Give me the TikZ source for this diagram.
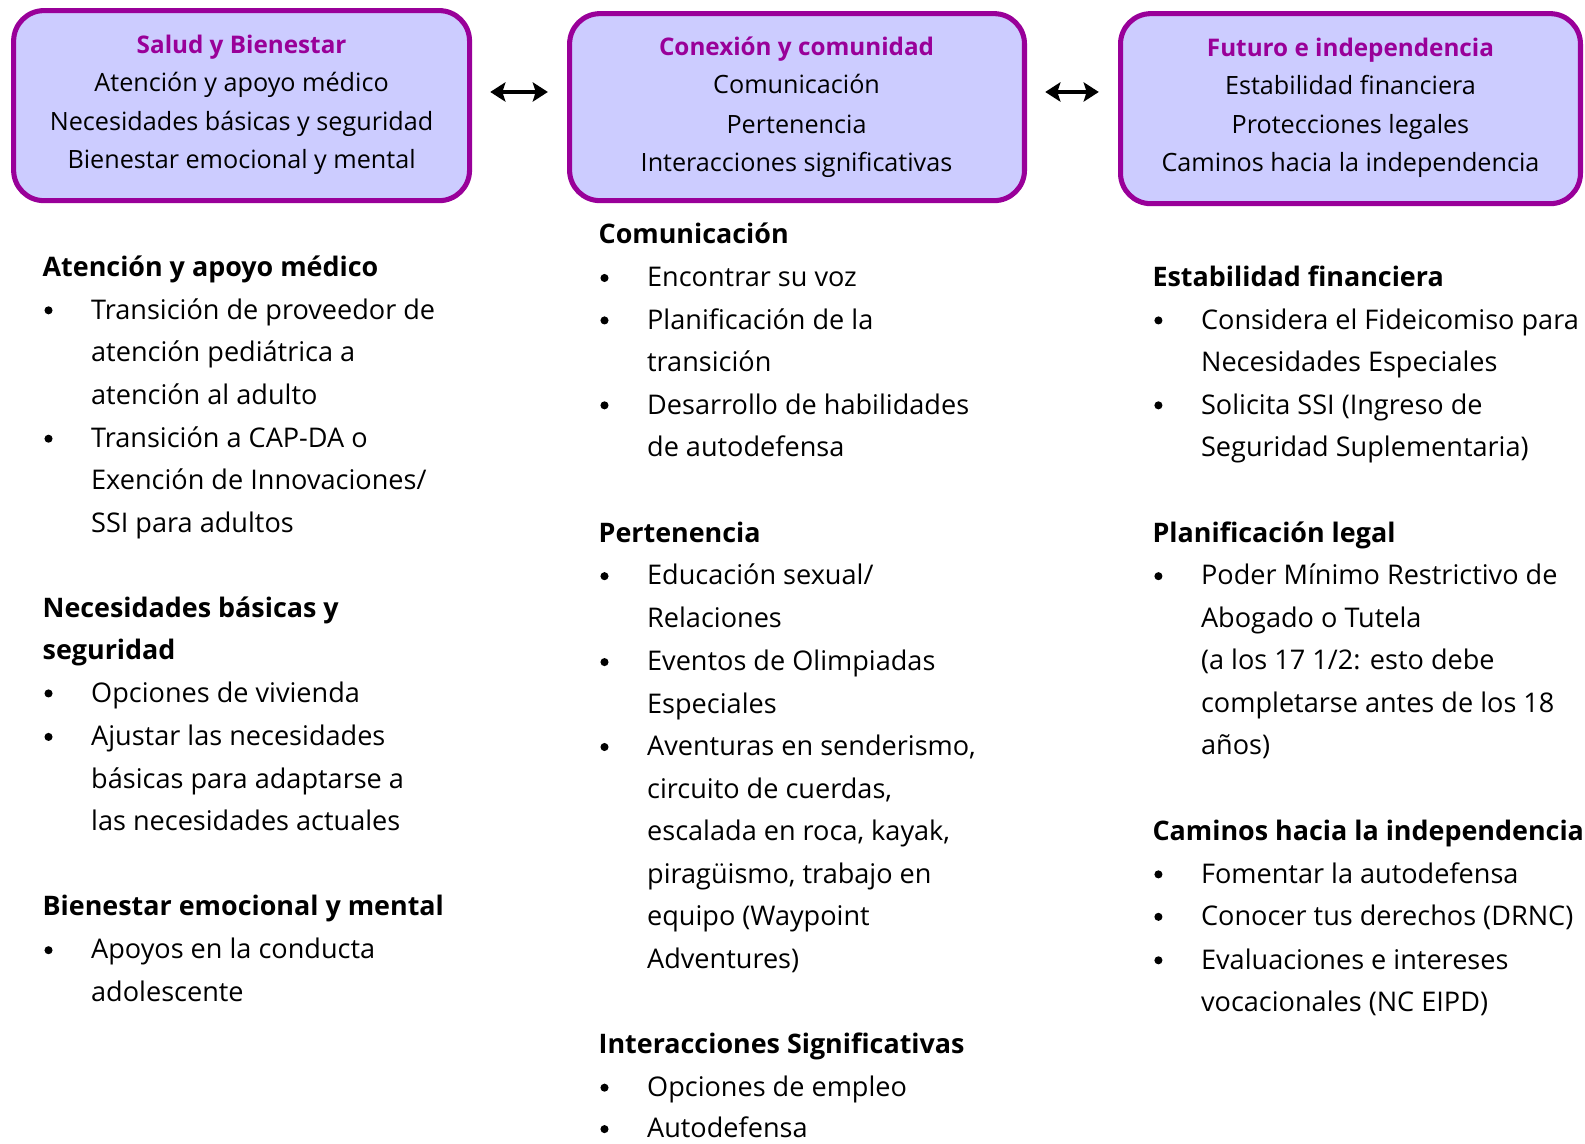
\documentclass[tikz,border=0pt]{standalone}
\usepackage{fontspec}
\setmainfont{Open Sans}
\usetikzlibrary{arrows.meta}
\definecolor{boxline}{HTML}{990099}
\definecolor{boxfill}{HTML}{CCCCFF}
\tikzset{
  txt/.style={inner sep=0pt, font=\fontsize{26.8}{30}\selectfont},
  catbox/.style={draw=boxline, fill=boxfill, line width=5pt, rounded corners=30pt, inner sep=0pt},
  boxtitle/.style={txt, anchor=mid, text=boxline, font=\fontsize{24}{28}\selectfont\bfseries},
  boxline/.style={txt, anchor=mid, font=\fontsize{24.9}{28}\selectfont},
  heading/.style={txt, anchor=mid west, font=\fontsize{26.6}{30}\selectfont\bfseries},
  body/.style={txt, anchor=mid west},
  bul/.style={circle, fill=black, inner sep=0pt, minimum size=8pt},
  link/.style={{Stealth[length=15pt,width=19pt,inset=3pt]}-{Stealth[length=15pt,width=19pt,inset=3pt]}, line width=4pt, shorten <=18pt, shorten >=19pt}
}
\begin{document}
\begin{tikzpicture}[x=1pt,y=-1pt]
\useasboundingbox[fill=white] (0,0) rectangle (1568,1131);
% boxes
\node[catbox, minimum width=451pt, minimum height=188pt] (box1) at (239,104.5) {};
\node[catbox, minimum width=450pt, minimum height=185pt] (box2) at (788.5,106) {};
\node[catbox, minimum width=455pt, minimum height=188pt] (box3) at (1336,107.5) {};
\coordinate (a1) at ([yshift=13.5pt]box1.east);
\coordinate (a2) at ([yshift=15pt]box2.east);
\draw[link] (a1) -- (a1 -| box2.west);
\draw[link] (a2) -- (a2 -| box3.west);
% box texts
\node[boxtitle] (t1) at (239,50) {Salud y Bienestar};
\node[boxline] (t1a) at (239,88) {Atención y apoyo médico};
\node[boxline] (t1b) at (239,126) {Necesidades básicas y seguridad};
\node[boxline] (t1c) at (239,164) {Bienestar emocional y mental};
\node[boxtitle] (t2) at (788,52) {Conexión y comunidad};
\node[boxline] (t2a) at (788,90) {Comunicación};
\node[boxline] (t2b) at (788,129) {Pertenencia};
\node[boxline] (t2c) at (788,167) {Interacciones significativas};
\node[boxtitle] (t3) at (1336,53) {Futuro e independencia};
\node[boxline] (t3a) at (1336,91) {Estabilidad financiera};
\node[boxline] (t3b) at (1336,129) {Protecciones legales};
\node[boxline] (t3c) at (1336,167) {Caminos hacia la independencia};
% column 1
\foreach \y/\t [count=\i] in {265/{Atención y apoyo médico}, 602/{Necesidades básicas y}, 644/{seguridad}, 897/{Bienestar emocional y mental}}
  \node[heading] (h1-\i) at (42,\y+6) {\t};
\foreach \y [count=\i] in {307,434,686,729,940}
  \node[bul] (b1-\i) at (48,\y) {};
\foreach \y/\t [count=\i] in {307/{Transición de proveedor de}, 349/{atención pediátrica a}, 391/{atención al adulto}, 434/{Transición a CAP-DA o}, 476/{Exención de Innovaciones/}, 518/{SSI para adultos}, 686/{Opciones de vivienda}, 729/{Ajustar las necesidades}, 771/{básicas para adaptarse a}, 813/{las necesidades actuales}, 940/{Apoyos en la conducta}, 982/{adolescente}}
  \node[body] (l1-\i) at (90,\y+6) {\t};
% column 2
\foreach \y/\t [count=\i] in {232/{Comunicación}, 528/{Pertenencia}, 1034/{Interacciones Significativas}}
  \node[heading] (h2-\i) at (592,\y+6) {\t};
\foreach \y [count=\i] in {275,317,401,570,655,739,1076,1117}
  \node[bul] (b2-\i) at (598,\y) {};
\foreach \y/\t [count=\i] in {275/{Encontrar su voz}, 317/{Planificación de la}, 359/{transición}, 401/{Desarrollo de habilidades}, 443/{de autodefensa}, 570/{Educación sexual/}, 612/{Relaciones}, 655/{Eventos de Olimpiadas}, 697/{Especiales}, 739/{Aventuras en senderismo,}, 781/{circuito de cuerdas,}, 823/{escalada en roca, kayak,}, 865/{piragüismo, trabajo en}, 907/{equipo (Waypoint}, 949/{Adventures)}, 1076/{Opciones de empleo}, 1117/{Autodefensa}}
  \node[body] (l2-\i) at (640,\y+6) {\t};
% column 3
\foreach \y/\t [count=\i] in {275/{Estabilidad financiera}, 528/{Planificación legal}, 823/{Caminos hacia la independencia}}
  \node[heading] (h3-\i) at (1140,\y+6) {\t};
\foreach \y [count=\i] in {317,401,570,865,907,950}
  \node[bul] (b3-\i) at (1146,\y) {};
\foreach \y/\t [count=\i] in {317/{Considera el Fideicomiso para}, 359/{Necesidades Especiales}, 401/{Solicita SSI (Ingreso de}, 443/{Seguridad Suplementaria)}, 570/{Poder Mínimo Restrictivo de}, 612/{Abogado o Tutela}, 654/{(a los 17 1/2: esto debe}, 696/{completarse antes de los 18}, 738/{años)}, 865/{Fomentar la autodefensa}, 907/{Conocer tus derechos (DRNC)}, 950/{Evaluaciones e intereses}, 992/{vocacionales (NC EIPD)}}
  \node[body] (l3-\i) at (1188,\y+6) {\t};
\end{tikzpicture}
\end{document}
